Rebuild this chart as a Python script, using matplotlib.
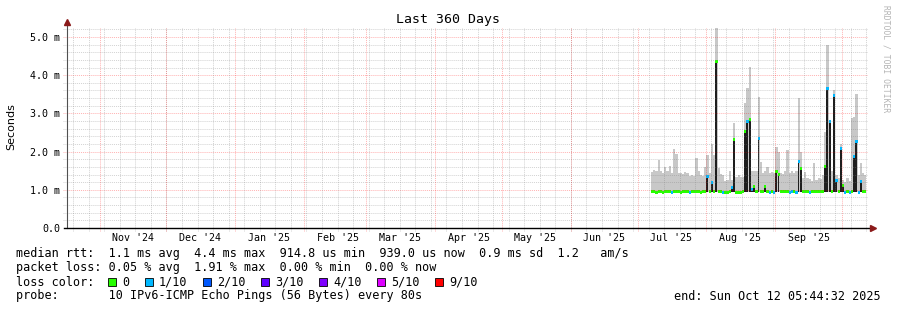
import datetime as dt

import matplotlib
matplotlib.use("Agg")
import matplotlib.dates as mdates
import matplotlib.pyplot as plt
from matplotlib.patches import Rectangle


START = dt.datetime(2024, 10, 17, 5, 44, 32)
END = dt.datetime(2025, 10, 12, 5, 44, 32)
DATA_START = dt.datetime(2025, 7, 7)

# one value per day from Jul 7 2025, in ms
median_ms = [
    0.95, 0.95, 0.94, 0.95, 0.95, 0.94, 0.95, 0.95, 0.95, 0.94,
    0.95, 0.95, 0.95, 0.94, 0.95, 0.95, 0.95, 0.94, 0.95, 0.95,
    0.95, 0.95, 0.94, 0.95, 0.95, 1.34, 0.95, 1.18, 0.95, 4.35,
    0.95, 0.95, 0.94, 0.93, 0.94, 0.95, 1.05, 2.32, 0.93, 0.92,
    0.92, 0.95, 2.52, 2.78, 2.83, 1.02, 1.08, 0.95, 2.35, 0.95,
    0.95, 1.08, 0.95, 0.94, 0.95, 0.94, 1.48, 1.40, 0.95, 0.95,
    0.95, 0.95, 0.94, 0.95, 0.95, 0.94, 1.74, 1.57, 0.95, 0.95,
    0.95, 0.94, 0.95, 0.95, 0.95, 0.95, 0.95, 0.95, 1.60, 3.66,
    2.78, 0.95, 3.46, 1.25, 0.95, 2.09, 1.12, 0.94, 0.95, 0.94,
    0.95, 1.87, 2.26, 0.94, 1.21, 0.95, 0.95,
]
smoke_hi_ms = [
    1.47, 1.53, 1.50, 1.78, 1.50, 1.45, 1.60, 1.50, 1.62, 1.45,
    2.06, 1.95, 1.45, 1.45, 1.42, 1.47, 1.45, 1.36, 1.38, 1.36,
    1.83, 1.50, 1.38, 1.36, 1.60, 1.91, 1.45, 2.20, 1.90, 5.23,
    1.58, 1.41, 1.40, 1.22, 1.25, 1.49, 1.25, 2.75, 1.33, 1.40,
    1.33, 1.33, 3.27, 3.66, 4.22, 1.50, 1.48, 1.50, 3.44, 1.73,
    1.45, 1.50, 1.60, 1.45, 1.47, 1.45, 2.13, 2.00, 1.45, 1.42,
    1.48, 2.04, 1.45, 1.48, 1.45, 1.50, 3.40, 2.00, 1.30, 1.47,
    1.30, 1.28, 1.22, 1.70, 1.25, 1.30, 1.28, 1.40, 2.52, 4.80,
    2.20, 1.48, 3.60, 1.40, 1.30, 2.20, 1.25, 1.20, 1.30, 1.22,
    2.88, 2.90, 3.52, 1.40, 1.70, 1.45, 1.40,
]
loss_idx = [
    0, 0, 0, 0, 0, 0, 0, 0, 0, 1,
    0, 0, 0, 0, 0, 0, 0, 1, 0, 0,
    0, 0, 0, 0, 0, 1, 0, 1, 0, 0,
    0, 0, 1, 0, 0, 0, 1, 0, 0, 0,
    0, 0, 0, 1, 0, 1, 0, 0, 1, 0,
    0, 0, 0, 1, 0, 1, 0, 0, 0, 0,
    0, 0, 1, 1, 0, 1, 1, 0, 0, 0,
    0, 1, 0, 0, 0, 0, 0, 0, 0, 1,
    1, 0, 1, 1, 0, 1, 0, 1, 0, 1,
    0, 1, 1, 1, 1, 0, 0,
]

loss_colors = ["#26ff00", "#00b8ff", "#0059ff", "#5e00ff", "#7e00ff", "#dd00ff", "#ff0000"]
loss_labels = ["0", "1/10", "2/10", "3/10", "4/10", "5/10", "9/10"]
y_ticks = [0, 1, 2, 3, 4, 5]
y_labels = ["0.0", "1.0 m", "2.0 m", "3.0 m", "4.0 m", "5.0 m"]
month_labels = ["Nov '24", "Dec '24", "Jan '25", "Feb '25", "Mar '25", "Apr '25",
                "May '25", "Jun '25", "Jul '25", "Aug '25", "Sep '25"]

MONO = "DejaVu Sans Mono"
W, H = 897, 310

fig = plt.figure(figsize=(W / 100, H / 100), dpi=100)
ax = fig.add_axes([67 / W, 82 / H, 800 / W, 200 / H])
ax.set_xlim(mdates.date2num(START), mdates.date2num(END))
ax.set_ylim(0, 5.236)
for s in ax.spines.values():
    s.set_visible(False)

x = mdates.date2num([DATA_START + dt.timedelta(days=i) for i in range(len(median_ms))])
base = 0.93

# smoke
ax.bar(x, [h - base for h in smoke_hi_ms], bottom=base, width=1, align="edge",
       color="#c8c8c8", linewidth=0, zorder=2)
xs = [xi for xi, m in zip(x, median_ms) if m > 1.0]
ms = [m for m in median_ms if m > 1.0]
ax.bar(xs, [m - base for m in ms], bottom=base, width=0.85, align="edge",
       color="#1e1e1e", linewidth=0, zorder=3)

# median, coloured by loss
ax.bar(x, 0.08, bottom=[m - 0.04 for m in median_ms], width=1, align="edge",
       color=[loss_colors[i] for i in loss_idx], linewidth=0, zorder=4)

# grid, drawn on top like rrdtool
dots = (0, (1, 1))
for k in range(1, 27):
    v = k * 0.2
    if k % 5 == 0:
        ax.axhline(v, xmin=-0.005, color="#ff0000", alpha=0.3, lw=0.7, ls=dots, clip_on=False, zorder=5)
    else:
        ax.axhline(v, xmin=-0.005, color="#808080", alpha=0.35, lw=0.7, ls=dots, clip_on=False, zorder=5)

day = dt.datetime(2024, 10, 20)
while day < END:
    ax.axvline(mdates.date2num(day), ymin=-0.015, color="#808080", alpha=0.35, lw=0.7, ls=dots,
               clip_on=False, zorder=5)
    day += dt.timedelta(days=7)

mids = []
for i in range(11):
    y, m = 2024 + (10 + i) // 12, (10 + i) % 12 + 1
    first = dt.datetime(y, m, 1)
    ax.axvline(mdates.date2num(first), ymin=-0.015, color="#ff0000", alpha=0.3, lw=0.7, ls=dots,
               clip_on=False, zorder=5)
    mids.append(mdates.date2num(dt.datetime(y, m, 16)))
ax.axvline(mdates.date2num(dt.datetime(2025, 10, 1)), ymin=-0.015, color="#ff0000", alpha=0.3,
           lw=0.7, ls=dots, clip_on=False, zorder=5)

# axes with arrows
ax.plot([0, 0], [0, 1.02], transform=ax.transAxes, color="#505050", lw=0.8, clip_on=False, zorder=6)
ax.plot([-0.004, 1.006], [0, 0], transform=ax.transAxes, color="black", lw=1.0, clip_on=False, zorder=6)
ax.plot([0], [1.03], "^", ms=4, color="#8b1a1a", transform=ax.transAxes, clip_on=False, zorder=7)
ax.plot([1.007], [0], ">", ms=4, color="#8b1a1a", transform=ax.transAxes, clip_on=False, zorder=7)

ax.set_yticks(y_ticks)
ax.set_yticklabels(y_labels, family=MONO, fontsize=7.2)
ax.set_xticks(mids)
ax.set_xticklabels(month_labels, family=MONO, fontsize=7.2)
ax.tick_params(axis="y", length=0, pad=5)
ax.tick_params(axis="x", length=0, pad=3.5)

fig.text(448 / W, 1 - 19 / H, "Last 360 Days", ha="center", va="center", family=MONO, fontsize=9.5)
fig.text(11 / W, 1 - 127 / H, "Seconds", rotation=90, ha="center", va="center", fontsize=8)
fig.text(886 / W, 1 - 59 / H, "RRDTOOL / TOBI OETIKER", rotation=270, ha="center", va="center",
         family=MONO, fontsize=5.8, color="#b4b4b4")

fig.text(16 / W, 1 - 254 / H,
         "median rtt:  1.1 ms avg  4.4 ms max  914.8 us min  939.0 us now  0.9 ms sd  1.2   am/s",
         va="center", family=MONO, fontsize=8.5)
fig.text(16 / W, 1 - 268 / H,
         "packet loss: 0.05 % avg  1.91 % max  0.00 % min  0.00 % now",
         va="center", family=MONO, fontsize=8.5)
fig.text(16 / W, 1 - 282 / H, "loss color:", va="center", family=MONO, fontsize=8.5)
box_x = [108, 145, 203, 261, 319, 377, 435]
for bx, c, lab in zip(box_x, loss_colors, loss_labels):
    fig.patches.append(Rectangle((bx / W, 1 - 286 / H), 8 / W, 8 / H, transform=fig.transFigure,
                                 facecolor=c, edgecolor="black", linewidth=0.6))
    fig.text((bx + 14) / W, 1 - 282 / H, lab, va="center", family=MONO, fontsize=8.5)
fig.text(16 / W, 1 - 296 / H, "probe:       10 IPv6-ICMP Echo Pings (56 Bytes) every 80s",
         va="center", family=MONO, fontsize=8.5)
fig.text(881 / W, 1 - 296 / H, "end: Sun Oct 12 05:44:32 2025", ha="right", va="center",
         family=MONO, fontsize=8.5)

fig.savefig("out.png", dpi=100)
